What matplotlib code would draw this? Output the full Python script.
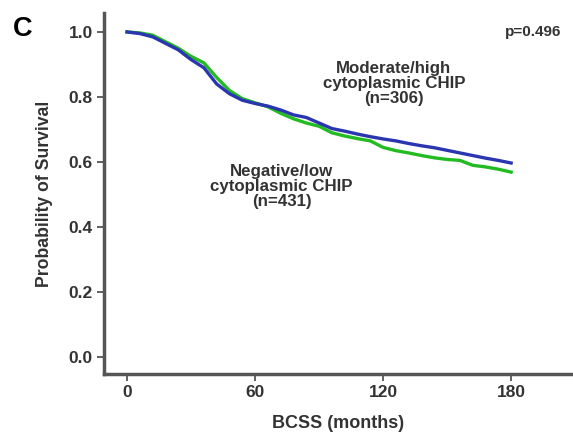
import matplotlib
matplotlib.use("Agg")
import matplotlib.pyplot as plt

# Kaplan-Meier curves (months, survival)
months = [0, 6, 12, 18, 24, 30, 36, 42, 48, 54, 60, 66, 72, 78, 84, 90,
          96, 102, 108, 114, 120, 126, 132, 138, 144, 150, 156, 162, 168, 174, 180]
surv_high = [1.0, 0.995, 0.985, 0.965, 0.945, 0.915, 0.89, 0.84, 0.81, 0.79, 0.78,
             0.772, 0.76, 0.745, 0.737, 0.72, 0.703, 0.695, 0.686, 0.678, 0.671,
             0.665, 0.657, 0.65, 0.644, 0.636, 0.628, 0.62, 0.612, 0.605, 0.597]
surv_low = [1.0, 0.997, 0.99, 0.97, 0.95, 0.925, 0.905, 0.86, 0.82, 0.795, 0.782,
            0.77, 0.75, 0.733, 0.72, 0.71, 0.69, 0.68, 0.672, 0.665, 0.645,
            0.635, 0.628, 0.62, 0.613, 0.608, 0.605, 0.59, 0.585, 0.578, 0.569]
xticks = [0, 60, 120, 180]
yticks = [0.0, 0.2, 0.4, 0.6, 0.8, 1.0]

plt.rcParams['font.family'] = ['Liberation Sans', 'DejaVu Sans']
txt = '#333333'

fig = plt.figure(figsize=(5.73, 4.36), dpi=100)
ax = fig.add_axes([0.1815, 0.142, 0.8185, 0.828])

ax.plot(months, surv_high, color='#2a35b0', lw=2.4, zorder=3)
ax.plot(months, surv_low, color='#22bb22', lw=2.4, zorder=2)

ax.set_xlim(-10.8, 209)
ax.set_ylim(-0.052, 1.058)
ax.set_xticks(xticks)
ax.set_xticklabels([str(t) for t in xticks])
ax.set_yticks(yticks)
ax.set_yticklabels(['%.1f' % t for t in yticks])
ax.tick_params(direction='out', length=5, width=1.3, color='#555555',
               labelsize=12.5, labelcolor=txt, pad=3)
for lab in ax.get_xticklabels() + ax.get_yticklabels():
    lab.set_fontweight('bold')

for side in ['top', 'right']:
    ax.spines[side].set_visible(False)
for side in ['left', 'bottom']:
    ax.spines[side].set_linewidth(2.5)
    ax.spines[side].set_color('#555555')

ax.set_xlabel('BCSS (months)', fontsize=13, fontweight='bold', color=txt, labelpad=11)
ax.set_ylabel('Probability of Survival', fontsize=12.7, fontweight='bold', color=txt, labelpad=11)

ax.text(125, 0.84, 'Moderate/high\ncytoplasmic CHIP\n(n=306)', ha='center', va='center',
        fontsize=12.2, fontweight='bold', color=txt, linespacing=1.0)
ax.text(72.4, 0.525, 'Negative/low\ncytoplasmic CHIP\n(n=431)', ha='center', va='center',
        fontsize=12.2, fontweight='bold', color=txt, linespacing=1.0)
ax.text(0.975, 1.0, 'p=0.496', transform=ax.get_yaxis_transform(),
        ha='right', va='center', fontsize=11, fontweight='bold', color=txt)

fig.text(0.039, 0.933, 'C', fontsize=19.5, fontweight='bold', color='black', ha='center', va='center')

fig.savefig('out.png', dpi=100)
